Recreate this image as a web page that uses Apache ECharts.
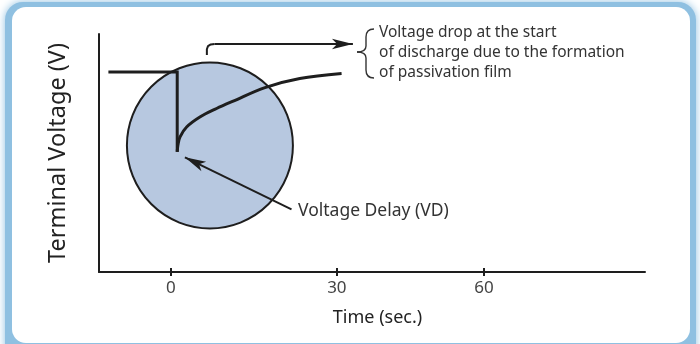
<!DOCTYPE html>
<html>
<head>
<meta charset="utf-8">
<script src="https://cdn.jsdelivr.net/npm/echarts@6/dist/echarts.min.js"></script>
<style>
    html, body { margin: 0; padding: 0; background: #ffffff; }
    #chart { width: 700px; height: 344px; }
</style>
</head>
<body>
<div id="chart"></div>
<script>
// tick marks on the time axis (positions as drawn in the figure) and their labels
const xTickValues = [0, 30, 56.6];
const xTickLabels = ["0", "30", "60"];

// voltage before discharge, then the sudden drop at t ~ 1 s
const stepData = [[-11.3, 84], [1.14, 84], [1.14, 50.5]];
// recovery of the voltage after the drop
const recoveryData = [
    [1.14, 50.5], [1.27, 53.4], [1.63, 56.7], [2.84, 60.9], [5.24, 65.1], [8.26, 68.7],
    [11.26, 71.8], [17.0, 77.5], [23.3, 81.3], [30.85, 83.4]
];
// highlighted region (circle) around the drop
const circleData = [[7.05, 53.2]];

// annotation arrows
const dropLeader = [[6.5, 91.2], [6.5, 93.6], [6.7, 94.9], [7.2, 95.6], [7.9, 95.8]];
const dropArrow = [[7.9, 95.8], [32.9, 95.8]];
const delayArrow = [[21.8, 26.3], [2.53, 48.2]];

const noteLines = [
    "Voltage drop at the start",
    "of discharge due to the formation",
    "of passivation film"
];
const delayNote = "Voltage Delay (VD)";

const FONT = "'Noto Sans', 'Noto Sans CJK JP', sans-serif";
const INK = "#1e1e1e";

// curly brace next to the note, built from small pieces
const braceStyle = { stroke: "#333", lineWidth: 1.4, fill: null };
const brace = [
    { type: "bezierCurve", shape: { x1: 374, y1: 29, cpx1: 366, cpy1: 29, x2: 366, y2: 37 } },
    { type: "line", shape: { x1: 366, y1: 37, x2: 366, y2: 46 } },
    { type: "bezierCurve", shape: { x1: 366, y1: 46, cpx1: 366, cpy1: 52, x2: 357, y2: 52 } },
    { type: "bezierCurve", shape: { x1: 357, y1: 52, cpx1: 366, cpy1: 52, x2: 366, y2: 58 } },
    { type: "line", shape: { x1: 366, y1: 58, x2: 366, y2: 70 } },
    { type: "bezierCurve", shape: { x1: 366, y1: 70, cpx1: 366, cpy1: 78, x2: 374, y2: 78 } }
].map(e => Object.assign(e, { style: braceStyle, silent: true }));

const chart = echarts.init(document.getElementById("chart"), null, { renderer: "canvas" });

const option = {
    backgroundColor: "#ffffff",
    animation: false,
    grid: { left: 99, right: 55, top: 34, bottom: 72 },
    xAxis: [
        {
            type: "value",
            min: -13,
            max: 85.7,
            name: "Time (sec.)",
            nameLocation: "middle",
            nameGap: 37,
            nameTextStyle: { fontSize: 18, color: "#222", fontFamily: FONT, padding: [0, 0, 0, 11] },
            axisLine: { show: true, onZero: false, lineStyle: { color: INK, width: 2 } },
            axisTick: { show: true, customValues: xTickValues, length: 4, lineStyle: { color: INK, width: 2 } },
            axisLabel: {
                show: true,
                customValues: xTickValues,
                margin: 8,
                fontSize: 17,
                color: "#444",
                fontFamily: FONT,
                formatter: v => xTickLabels[xTickValues.indexOf(v)]
            },
            splitLine: { show: false }
        },
        {
            type: "value",
            min: -13,
            max: 85.7,
            position: "bottom",
            axisLine: { show: false },
            axisTick: { show: true, inside: true, customValues: xTickValues, length: 4, lineStyle: { color: INK, width: 2 } },
            axisLabel: { show: false },
            splitLine: { show: false }
        }
    ],
    yAxis: {
        type: "value",
        min: 0,
        max: 100,
        name: "Terminal Voltage (V)",
        nameLocation: "middle",
        nameGap: 29,
        nameTextStyle: { fontSize: 23.5, color: "#222", fontFamily: FONT },
        axisLine: { show: true, onZero: false, lineStyle: { color: INK, width: 2 } },
        axisTick: { show: false },
        axisLabel: { show: false },
        splitLine: { show: false }
    },
    graphic: [
        {
            type: "rect",
            z: -10,
            shape: { x: 5, y: 2, width: 691, height: 360, r: 18 },
            style: { fill: "#8fc0e1", shadowBlur: 8, shadowColor: "#8fc0e1" },
            silent: true
        },
        {
            type: "rect",
            z: -9,
            shape: { x: 12, y: 7, width: 678, height: 336, r: 14 },
            style: { fill: "#ffffff" },
            silent: true
        },
        ...brace,
        ...noteLines.map((t, i) => ({
            type: "text",
            x: 379,
            y: 32.5 + i * 20,
            style: { text: t, fill: "#333", font: "15.5px " + FONT, verticalAlign: "middle" },
            silent: true
        })),
        {
            type: "text",
            x: 298,
            y: 211,
            style: { text: delayNote, fill: "#333", font: "17.5px " + FONT, verticalAlign: "middle" },
            silent: true
        }
    ],
    series: [
        {
            name: "region",
            type: "scatter",
            data: circleData,
            symbol: "circle",
            symbolSize: 166,
            itemStyle: { color: "#b7c8e0", borderColor: INK, borderWidth: 2, opacity: 1 },
            silent: true,
            z: 1
        },
        {
            name: "step",
            type: "line",
            data: stepData,
            symbol: "none",
            lineStyle: { color: INK, width: 3, join: "miter", cap: "butt" },
            silent: true,
            z: 3
        },
        {
            name: "recovery",
            type: "line",
            data: recoveryData,
            smooth: 0.35,
            symbol: "none",
            lineStyle: { color: INK, width: 3 },
            silent: true,
            z: 3
        },
        {
            name: "leader",
            type: "line",
            data: dropLeader,
            symbol: "none",
            lineStyle: { color: INK, width: 2 },
            silent: true,
            z: 4
        },
        {
            name: "arrows",
            type: "lines",
            coordinateSystem: "cartesian2d",
            symbol: ["none", "arrow"],
            symbolSize: [0, [8, 21]],
            lineStyle: { color: INK, width: 2, opacity: 1, curveness: 0 },
            data: [{ coords: dropArrow }, { coords: delayArrow }],
            silent: true,
            z: 4
        }
    ]
};

chart.setOption(option);
</script>
</body>
</html>
